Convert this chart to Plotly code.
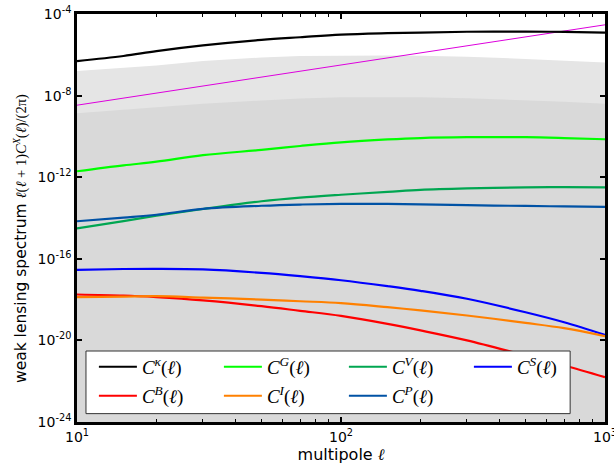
import numpy as np
import plotly.graph_objects as go

# multipole grid
ell = [10, 15, 20, 30, 50, 70, 100, 150, 200, 300, 500, 700, 1000]

# log10 of l(l+1)C^X(l)/(2pi)
log_kappa = [-6.31, -6.06, -5.82, -5.54, -5.27, -5.14, -5.01, -4.94, -4.91, -4.87, -4.86, -4.88, -4.91]
log_G     = [-11.71, -11.42, -11.24, -10.92, -10.66, -10.47, -10.29, -10.15, -10.08, -10.04, -10.04, -10.08, -10.14]
log_V     = [-14.51, -14.15, -13.89, -13.56, -13.18, -13.00, -12.86, -12.72, -12.62, -12.55, -12.50, -12.49, -12.50]
log_P     = [-14.16, -13.98, -13.84, -13.55, -13.40, -13.34, -13.31, -13.31, -13.33, -13.37, -13.41, -13.43, -13.45]
log_S     = [-16.54, -16.50, -16.49, -16.52, -16.69, -16.85, -17.05, -17.34, -17.57, -17.96, -18.62, -19.11, -19.73]
log_I     = [-17.88, -17.85, -17.83, -17.90, -18.00, -18.08, -18.17, -18.37, -18.53, -18.78, -19.14, -19.40, -19.79]
log_B     = [-17.75, -17.80, -17.88, -18.04, -18.32, -18.55, -18.80, -19.19, -19.51, -20.00, -20.74, -21.23, -21.80]

# thin magenta reference line
ell_magenta = [10, 100, 1000]
log_magenta = [-8.47, -6.50, -4.53]

# upper edges of the grey shaded regions
log_band_light = [-6.80, -6.64, -6.52, -6.30, -6.13, -6.06, -6.03, -6.03, -6.05, -6.10, -6.20, -6.28, -6.38]
log_band_dark  = [-8.86, -8.70, -8.57, -8.40, -8.24, -8.14, -8.08, -8.07, -8.08, -8.13, -8.22, -8.30, -8.40]

# axis ticks
x_tickvals = [10, 100, 1000]
x_ticktext = ["10<sup>1</sup>", "10<sup>2</sup>", "10<sup>3</sup>"]
x_minor = [20, 30, 40, 50, 60, 70, 80, 90, 200, 300, 400, 500, 600, 700, 800, 900]
y_tickvals = [1e-24, 1e-20, 1e-16, 1e-12, 1e-8, 1e-4]
y_ticktext = ["10<sup>-24</sup>", "10<sup>-20</sup>", "10<sup>-16</sup>",
              "10<sup>-12</sup>", "10<sup>-8</sup>", "10<sup>-4</sup>"]

y_title = ("weak lensing spectrum <span style='font-family:Liberation Serif;font-size:14.5px'>"
           "<i>ℓ</i>(<i>ℓ</i> + 1)<i>C</i><sup><i>X</i></sup>(<i>ℓ</i>)/(2π)</span>")
x_title = "multipole <span style='font-family:Liberation Serif'><i>ℓ</i></span>"

# series: (name, log values, colour, legend row)
series = [
    ("<i>C</i><sup><i>κ</i></sup>(<i>ℓ</i>)", log_kappa, "#000000", "legend"),
    ("<i>C</i><sup><i>G</i></sup>(<i>ℓ</i>)", log_G, "#00ff00", "legend"),
    ("<i>C</i><sup><i>V</i></sup>(<i>ℓ</i>)", log_V, "#00a651", "legend"),
    ("<i>C</i><sup><i>S</i></sup>(<i>ℓ</i>)", log_S, "#0000ff", "legend"),
    ("<i>C</i><sup><i>B</i></sup>(<i>ℓ</i>)", log_B, "#ff0000", "legend2"),
    ("<i>C</i><sup><i>I</i></sup>(<i>ℓ</i>)", log_I, "#ff8000", "legend2"),
    ("<i>C</i><sup><i>P</i></sup>(<i>ℓ</i>)", log_P, "#0052a5", "legend2"),
]

FLOOR = 1e-30
fig = go.Figure()

for band, col in [(log_band_light, "#e5e5e5"), (log_band_dark, "#d9d9d9")]:
    top = list(10.0 ** np.array(band))
    fig.add_trace(go.Scatter(
        x=ell + ell[::-1], y=top + [FLOOR] * len(ell),
        fill="toself", fillcolor=col, mode="lines", line=dict(width=0),
        showlegend=False, hoverinfo="skip"))

fig.add_trace(go.Scatter(x=ell_magenta, y=10.0 ** np.array(log_magenta), mode="lines",
                         line=dict(color="#dd00dd", width=1), showlegend=False))

for name, vals, col, leg in series:
    fig.add_trace(go.Scatter(x=ell, y=10.0 ** np.array(vals), mode="lines", name=name,
                             line=dict(color=col, width=2.2, shape="spline", smoothing=1.0),
                             legend=leg))

sans = "DejaVu Sans"
serif = "Liberation Serif, DejaVu Serif"

legend_style = dict(orientation="h", xanchor="left", yanchor="middle",
                    bgcolor="rgba(0,0,0,0)", borderwidth=0, entrywidth=72, itemwidth=38,
                    font=dict(family=serif, size=19, color="black"))

fig.update_layout(
    width=614, height=466,
    margin=dict(l=77, r=9, t=14, b=44, autoexpand=False),
    paper_bgcolor="white", plot_bgcolor="white",
    legend=dict(x=0.032, y=0.135, **legend_style),
    legend2=dict(x=0.032, y=0.064, **legend_style),
    shapes=[dict(type="rect", xref="paper", yref="paper",
                 x0=0.017, x1=0.934, y0=0.0205, y1=0.174,
                 fillcolor="white", line=dict(color="#333333", width=1), layer="above")],
    annotations=[dict(text=y_title, textangle=-90, xref="paper", yref="paper",
                      x=0, y=0.5, xanchor="center", yanchor="middle", xshift=-57, yshift=-21,
                      showarrow=False, font=dict(family=sans, size=15.5, color="black"))],
    xaxis=dict(type="log", range=[1, 3], tickvals=x_tickvals, ticktext=x_ticktext,
               ticks="inside", ticklen=5, tickwidth=1.5, tickcolor="black",
               mirror="ticks", showline=True, linecolor="black", linewidth=2.5,
               showgrid=False, zeroline=False, automargin=False, ticklabeloverflow="allow",
               minor=dict(tickvals=x_minor, ticks="inside", ticklen=3, tickcolor="black",
                          tickwidth=1, showgrid=False),
               tickfont=dict(family=sans, size=14, color="black"),
               title=dict(text=x_title, font=dict(family=sans, size=16, color="black"), standoff=4)),
    yaxis=dict(type="log", range=[-24, -4], tickvals=y_tickvals, ticktext=y_ticktext,
               ticks="inside", ticklen=5, tickwidth=1.5, tickcolor="black",
               mirror="ticks", showline=True, linecolor="black", linewidth=2.5,
               showgrid=False, zeroline=False, automargin=False, ticklabeloverflow="allow",
               tickfont=dict(family=sans, size=14, color="black")),
)

fig.write_html("out.html", config={"displayModeBar": False},
               post_script="document.body.style.margin='0';")
